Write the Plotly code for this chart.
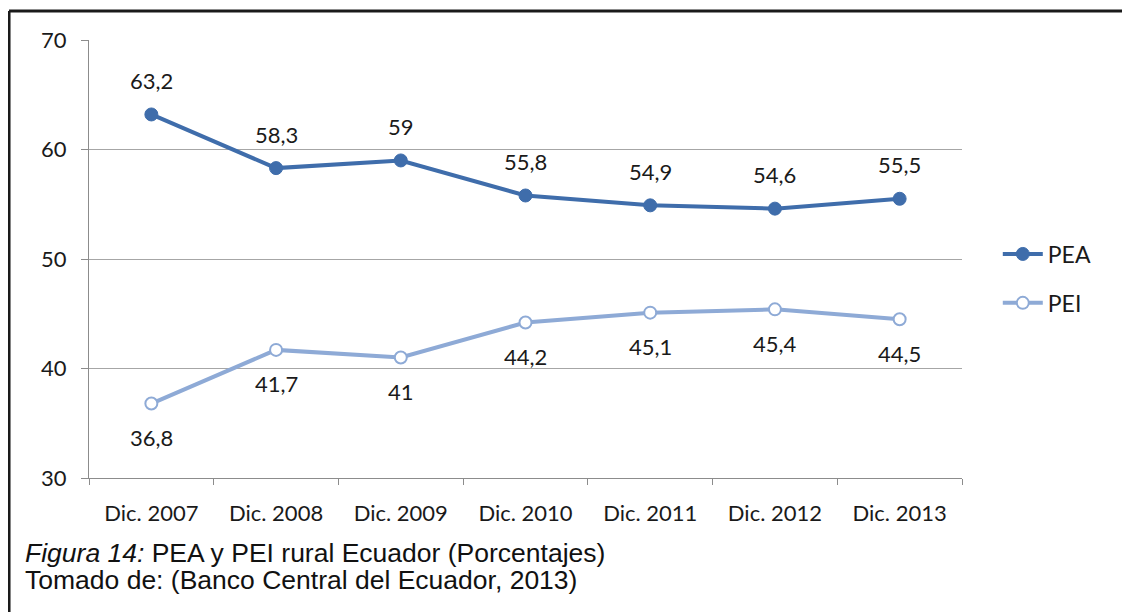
import plotly.graph_objects as go

# data
years = ['Dic. 2007', 'Dic. 2008', 'Dic. 2009', 'Dic. 2010', 'Dic. 2011', 'Dic. 2012', 'Dic. 2013']
pea = [63.2, 58.3, 59, 55.8, 54.9, 54.6, 55.5]
pei = [36.8, 41.7, 41, 44.2, 45.1, 45.4, 44.5]

pea_color = '#3f6dab'
pei_color = '#8eaad6'
font_main = 'Lato, Carlito, Calibri, sans-serif'
font_caption = 'Liberation Sans, Arial, sans-serif'


def fmt(v):
    return f"{v:g}".replace('.', ',')


fig = go.Figure()

fig.add_scatter(
    x=years, y=pea, mode='lines+markers', name='PEA', legendgroup='pea',
    line=dict(color=pea_color, width=4),
    marker=dict(color=pea_color, size=13, line=dict(color=pea_color, width=1)),
)

fig.add_scatter(
    x=years, y=pei, mode='lines+markers', name='PEI', legendgroup='pei',
    line=dict(color=pei_color, width=4),
    marker=dict(color='white', size=12, line=dict(color=pei_color, width=2)),
)

# data labels: PEA above, PEI below
for x, v in zip(years, pea):
    fig.add_annotation(x=x, y=v, text=fmt(v), showarrow=False, yshift=34,
                       font=dict(family=font_main, size=22, color='#1a1a1a'))
for x, v in zip(years, pei):
    fig.add_annotation(x=x, y=v, text=fmt(v), showarrow=False, yshift=-34,
                       font=dict(family=font_main, size=22, color='#1a1a1a'))

# caption under the chart
fig.add_annotation(xref='paper', yref='paper', x=-0.0756, y=-0.171, xanchor='left', yanchor='middle',
                   text='<i>Figura 14:</i> PEA y PEI rural Ecuador (Porcentajes)', showarrow=False,
                   font=dict(family=font_caption, size=26.5, color='#111111'))
fig.add_annotation(xref='paper', yref='paper', x=-0.0756, y=-0.233, xanchor='left', yanchor='middle',
                   text='Tomado de: (Banco Central del Ecuador, 2013)', showarrow=False,
                   font=dict(family=font_caption, size=26.5, color='#111111'))

# frame lines (top and left edges of the figure box)
fig.add_shape(type='line', xref='paper', yref='paper', x0=-0.0916, x1=1.2, y0=1.0662, y1=1.0662,
              line=dict(color='#1a1a1a', width=3))
fig.add_shape(type='line', xref='paper', yref='paper', x0=-0.0916, x1=-0.0916, y0=1.0662, y1=-0.32,
              line=dict(color='#1a1a1a', width=3))

fig.update_layout(
    width=1122, height=604,
    margin=dict(l=81, r=168, t=32, b=134),
    plot_bgcolor='white', paper_bgcolor='white',
    font=dict(family=font_main, size=21, color='#1a1a1a'),
    showlegend=True,
    legend=dict(x=1.041, y=0.4555, xanchor='left', yanchor='middle',
                font=dict(size=23), itemwidth=40, tracegroupgap=16,
                bgcolor='rgba(0,0,0,0)'),
    xaxis=dict(type='category', tickson='boundaries', ticks='outside', ticklen=6,
               tickcolor='#8c8c8c', showline=True, linecolor='#8c8c8c', linewidth=1,
               showgrid=False, tickfont=dict(size=22), ticklabelstandoff=16,
               range=[-0.5, 6.5]),
    yaxis=dict(range=[30, 70], dtick=10, ticks='outside', ticklen=7, tickcolor='#8c8c8c',
               showline=True, linecolor='#8c8c8c', linewidth=1, ticklabelstandoff=10,
               gridcolor='#a6a6a6', gridwidth=1, zeroline=False, tickfont=dict(size=22)),
)

fig.write_html("out.html")
